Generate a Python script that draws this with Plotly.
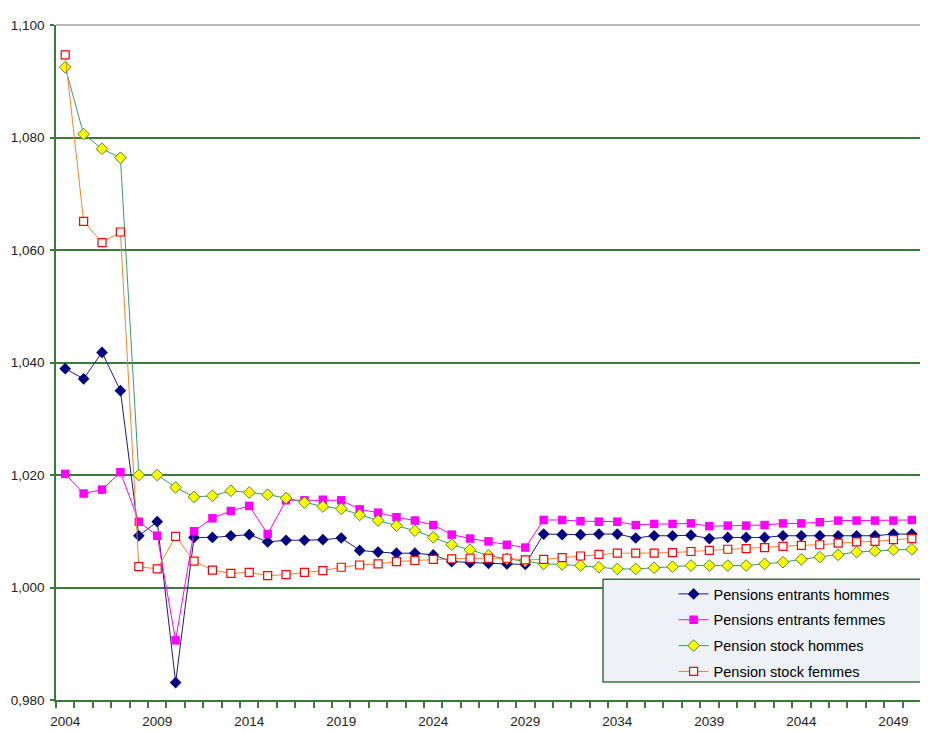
import plotly.graph_objects as go

years = list(range(2004, 2051))

entrants_hommes = [1.0389, 1.0371, 1.0418, 1.0350, 1.0092, 1.0117, 0.9831, 1.0089, 1.0089, 1.0092,
                   1.0094, 1.0081, 1.0084, 1.0084, 1.0085, 1.0088, 1.0066, 1.0063, 1.0061, 1.0061,
                   1.0058, 1.0046, 1.0044, 1.0043, 1.0042, 1.0041, 1.0095, 1.0094, 1.0094, 1.0095,
                   1.0095, 1.0088, 1.0092, 1.0092, 1.0093, 1.0087, 1.0089, 1.0089, 1.0089, 1.0092,
                   1.0092, 1.0092, 1.0092, 1.0092, 1.0092, 1.0095, 1.0095]

entrants_femmes = [1.0202, 1.0167, 1.0174, 1.0205, 1.0117, 1.0092, 0.9906, 1.0100, 1.0123, 1.0136,
                   1.0145, 1.0095, 1.0155, 1.0155, 1.0156, 1.0155, 1.0139, 1.0133, 1.0125, 1.0119,
                   1.0111, 1.0094, 1.0087, 1.0082, 1.0076, 1.0071, 1.0120, 1.0120, 1.0118, 1.0117,
                   1.0117, 1.0111, 1.0113, 1.0113, 1.0114, 1.0109, 1.0110, 1.0110, 1.0111, 1.0114,
                   1.0114, 1.0116, 1.0119, 1.0119, 1.0119, 1.0119, 1.0120]

stock_hommes = [1.0925, 1.0806, 1.0780, 1.0764, 1.0200, 1.0200, 1.0178, 1.0161, 1.0163, 1.0172,
                1.0169, 1.0165, 1.0159, 1.0151, 1.0144, 1.0140, 1.0129, 1.0119, 1.0110, 1.0101,
                1.0089, 1.0076, 1.0067, 1.0057, 1.0051, 1.0047, 1.0042, 1.0041, 1.0039, 1.0036,
                1.0033, 1.0033, 1.0035, 1.0037, 1.0039, 1.0039, 1.0039, 1.0039, 1.0042, 1.0045,
                1.0050, 1.0054, 1.0058, 1.0063, 1.0065, 1.0067, 1.0068]

stock_femmes = [1.0947, 1.0651, 1.0613, 1.0632, 1.0037, 1.0033, 1.0091, 1.0047, 1.0031, 1.0025,
                1.0027, 1.0021, 1.0023, 1.0027, 1.0030, 1.0036, 1.0040, 1.0042, 1.0046, 1.0048,
                1.0050, 1.0051, 1.0052, 1.0052, 1.0052, 1.0049, 1.0050, 1.0053, 1.0056, 1.0059,
                1.0061, 1.0061, 1.0061, 1.0062, 1.0064, 1.0066, 1.0068, 1.0069, 1.0071, 1.0073,
                1.0075, 1.0076, 1.0079, 1.0081, 1.0082, 1.0085, 1.0087]

y_ticks = [0.98, 1.00, 1.02, 1.04, 1.06, 1.08, 1.10]
y_tick_labels = ["0,980", "1,000", "1,020", "1,040", "1,060", "1,080", "1,100"]
x_ticks = [2004, 2009, 2014, 2019, 2024, 2029, 2034, 2039, 2044, 2049]

FONT = "Liberation Sans, Arial, sans-serif"
GREEN = "#3b7a3b"

fig = go.Figure()
fig.add_trace(go.Scatter(x=years, y=entrants_hommes, name="Pensions entrants hommes",
                         mode="lines+markers", legendgroup="a",
                         line=dict(color="#1a1a80", width=1),
                         marker=dict(symbol="diamond", size=9, color="#000080",
                                     line=dict(color="#000080", width=0))))
fig.add_trace(go.Scatter(x=years, y=entrants_femmes, name="Pensions entrants femmes",
                         mode="lines+markers", legendgroup="b",
                         line=dict(color="#ff00ff", width=1),
                         marker=dict(symbol="square", size=8.5, color="#ff00ff",
                                     line=dict(color="#ff00ff", width=0))))
fig.add_trace(go.Scatter(x=years, y=stock_hommes, name="Pension stock hommes",
                         mode="lines+markers", legendgroup="c",
                         line=dict(color="#3d9a6a", width=1),
                         marker=dict(symbol="diamond", size=9, color="#ffff00",
                                     line=dict(color="#4a8a2a", width=1))))
fig.add_trace(go.Scatter(x=years, y=stock_femmes, name="Pension stock femmes",
                         mode="lines+markers", legendgroup="d",
                         line=dict(color="#ff7f2a", width=1),
                         marker=dict(symbol="square", size=8, color="white",
                                     line=dict(color="#ff0000", width=1.2))))

fig.update_layout(
    width=928, height=733,
    margin=dict(l=48, r=15, t=17, b=41, autoexpand=False),
    paper_bgcolor="white", plot_bgcolor="white",
    font=dict(family=FONT, size=13.5, color="#222222"),
    showlegend=True,
    legend=dict(x=0.714, y=0.0993, xanchor="left", yanchor="middle",
                bgcolor="rgba(0,0,0,0)", borderwidth=0,
                font=dict(family=FONT, size=14.5, color="#000000"),
                tracegroupgap=4, itemwidth=30),
    shapes=[
        dict(type="rect", xref="paper", yref="paper", x0=0.6324, x1=1.008, y0=0.0267, y1=0.179,
             fillcolor="#eef1f6", line=dict(color="#3f6f3f", width=1.5), layer="above"),
        dict(type="line", xref="paper", yref="paper", x0=0, x1=1, y0=1, y1=1,
             line=dict(color="#a0a0a0", width=1.5), layer="above"),
        dict(type="line", xref="paper", yref="paper", x0=1, x1=1, y0=0, y1=1,
             line=dict(color="#a0a0a0", width=1.5), layer="above"),
    ],
)

fig.update_xaxes(
    range=[2003.5, 2050.5], tickmode="array", tickvals=x_ticks,
    ticks="", showgrid=False, zeroline=False, automargin=False,
    showline=True, linecolor=GREEN, linewidth=1.5, ticklabelstandoff=8,
    tickfont=dict(family=FONT, size=13.5, color="#222222"),
    minor=dict(tickmode="linear", tick0=2003.5, dtick=1, ticks="outside",
               ticklen=6, tickcolor=GREEN, tickwidth=1.5, showgrid=False),
)
fig.update_yaxes(
    range=[0.98, 1.10], tickmode="array", tickvals=y_ticks, ticktext=y_tick_labels,
    ticks="outside", ticklen=4, tickcolor=GREEN, tickwidth=1.5, automargin=False,
    showgrid=True, gridcolor=GREEN, gridwidth=1.5, zeroline=False,
    showline=True, linecolor=GREEN, linewidth=1.5, ticklabelstandoff=3,
    tickfont=dict(family=FONT, size=13.5, color="#222222"),
)

fig.write_html("out.html")
